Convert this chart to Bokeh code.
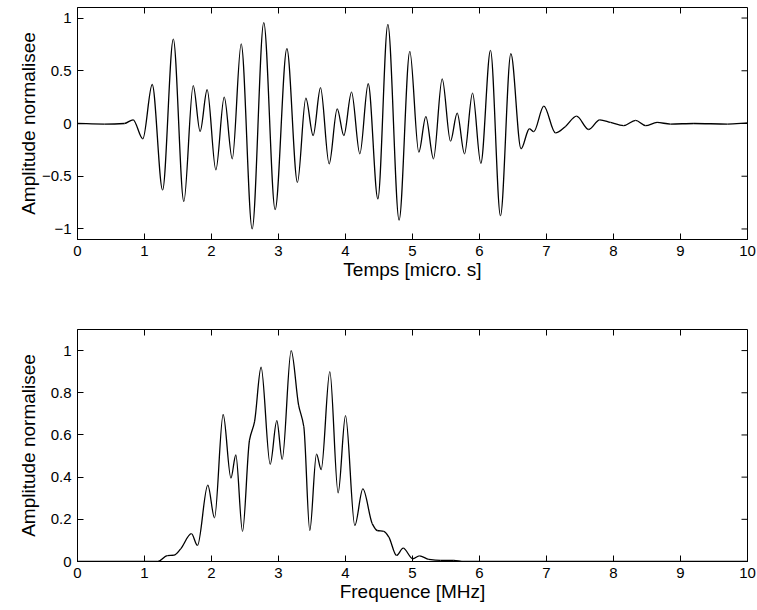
import math
from bokeh.plotting import figure
from bokeh.layouts import column
from bokeh.models import Range1d, FixedTicker
from bokeh.embed import file_html
from bokeh.resources import INLINE

# ---- data ----
time_us = [0.0, 0.4, 0.7, 0.83, 0.975, 1.115, 1.27, 1.43, 1.587, 1.727, 1.83, 1.935,
           2.065, 2.19, 2.31, 2.443, 2.607, 2.78, 2.95, 3.125, 3.283, 3.408, 3.517,
           3.627, 3.756, 3.876, 3.975, 4.09, 4.214, 4.339, 4.483, 4.632, 4.80, 4.96,
           5.094, 5.199, 5.313, 5.443, 5.567, 5.667, 5.776, 5.896, 6.02, 6.164, 6.313,
           6.468, 6.62, 6.745, 6.81, 6.96, 7.134, 7.28, 7.448, 7.63, 7.795, 7.955,
           8.15, 8.33, 8.48, 8.65, 8.85, 9.2, 9.7, 10.0]
amp_time = [0.0, -0.005, 0.0, 0.035, -0.145, 0.37, -0.63, 0.80, -0.74, 0.36, -0.075, 0.32,
            -0.44, 0.25, -0.335, 0.755, -1.0, 0.956, -0.817, 0.71, -0.557, 0.24, -0.114,
            0.339, -0.383, 0.139, -0.114, 0.297, -0.288, 0.377, -0.715, 0.94, -0.915, 0.684,
            -0.272, 0.066, -0.335, 0.424, -0.168, 0.098, -0.288, 0.288, -0.377, 0.693, -0.874,
            0.662, -0.24, -0.05, -0.077, 0.165, -0.089, -0.03, 0.07, -0.057, 0.035, 0.01,
            -0.02, 0.03, -0.02, 0.01, -0.005, 0.0, -0.005, 0.005]

freq_mhz = [0.0, 1.2, 1.34, 1.44, 1.54, 1.70, 1.79, 1.945, 2.045, 2.174, 2.29, 2.363,
            2.463, 2.567, 2.642, 2.74, 2.876, 2.975, 3.055, 3.189, 3.30, 3.378, 3.467,
            3.567, 3.637, 3.766, 3.89, 4.0, 4.139, 4.259, 4.40, 4.473, 4.572, 4.647,
            4.761, 4.861, 5.005, 5.104, 5.244, 5.418, 5.617, 5.766, 10.0]
amp_freq = [0.0, 0.0, 0.028, 0.03, 0.06, 0.132, 0.076, 0.362, 0.207, 0.697, 0.396, 0.505,
            0.143, 0.575, 0.662, 0.921, 0.461, 0.668, 0.484, 1.0, 0.742, 0.639, 0.147,
            0.509, 0.436, 0.90, 0.325, 0.691, 0.171, 0.344, 0.179, 0.147, 0.143, 0.116,
            0.029, 0.063, 0.013, 0.027, 0.01, 0.005, 0.005, 0.0, 0.0]

x_ticks = [0, 1, 2, 3, 4, 5, 6, 7, 8, 9, 10]
x_tick_labels = ["0", "1", "2", "3", "4", "5", "6", "7", "8", "9", "10"]
y_ticks_top = [-1, -0.5, 0, 0.5, 1]
y_tick_labels_top = ["\u22121", "\u22120.5", "0", "0.5", "1"]
y_ticks_bottom = [0, 0.2, 0.4, 0.6, 0.8, 1]
y_tick_labels_bottom = ["0", "0.2", "0.4", "0.6", "0.8", "1"]

x_label_top = "Temps [micro. s]"
x_label_bottom = "Frequence [MHz]"
y_label = "Amplitude normalisee"

FONT = "Liberation Sans"
TICK_FS = "15px"
LABEL_FS = "19px"
TICK_LEN = 6


def smooth_segments(xs, ys):
    """Cubic Bezier pieces through every read value (monotone, no overshoot)."""
    n = len(xs)
    h = [xs[i + 1] - xs[i] for i in range(n - 1)]
    d = [(ys[i + 1] - ys[i]) / h[i] for i in range(n - 1)]
    m = [0.0] * n
    m[0], m[-1] = d[0], d[-1]
    for i in range(1, n - 1):
        if d[i - 1] * d[i] <= 0:
            m[i] = 0.0
        else:
            w1 = 2 * h[i] + h[i - 1]
            w2 = h[i] + 2 * h[i - 1]
            m[i] = (w1 + w2) / (w1 / d[i - 1] + w2 / d[i])
    seg = dict(x0=[], y0=[], x1=[], y1=[], cx0=[], cy0=[], cx1=[], cy1=[])
    for i in range(n - 1):
        seg["x0"].append(xs[i]); seg["y0"].append(ys[i])
        seg["x1"].append(xs[i + 1]); seg["y1"].append(ys[i + 1])
        seg["cx0"].append(xs[i] + h[i] / 3); seg["cy0"].append(ys[i] + m[i] * h[i] / 3)
        seg["cx1"].append(xs[i + 1] - h[i] / 3); seg["cy1"].append(ys[i + 1] - m[i + 1] * h[i] / 3)
    return seg


def style_axis(ax, ticks, labels, label_standoff=6, axis_label_standoff=0):
    ax.ticker = FixedTicker(ticks=ticks)
    ax.major_tick_in = TICK_LEN
    ax.major_tick_out = 0
    ax.minor_tick_in = 0
    ax.minor_tick_out = 0
    ax.axis_line_color = "black"
    ax.axis_line_width = 1
    ax.major_tick_line_color = "black"
    ax.major_tick_line_width = 1
    ax.major_label_text_color = "black"
    ax.major_label_text_font = FONT
    ax.major_label_text_font_size = TICK_FS
    ax.major_label_standoff = label_standoff
    ax.major_label_overrides = {t: l for t, l in zip(ticks, labels)}
    ax.axis_label_text_font = FONT
    ax.axis_label_text_font_size = LABEL_FS
    ax.axis_label_text_font_style = "normal"
    ax.axis_label_text_color = "black"
    ax.axis_label_standoff = axis_label_standoff


def make_panel(xs, ys, y_range, yt, ytl, xlabel, height, top_border, bottom_border, ylab_standoff):
    p = figure(width=757, height=height,
               x_range=Range1d(0, 10), y_range=Range1d(*y_range),
               output_backend="svg", toolbar_location=None,
               min_border_left=77, min_border_right=10,
               min_border_top=top_border, min_border_bottom=bottom_border,
               background_fill_color="white", border_fill_color="white")
    p.grid.visible = False
    p.outline_line_color = "black"
    p.outline_line_width = 1
    p.outline_line_alpha = 1
    seg = smooth_segments(xs, ys)
    p.bezier(line_color="black", line_width=1.3, **seg)

    style_axis(p.xaxis[0], x_ticks, x_tick_labels, label_standoff=6, axis_label_standoff=0)
    p.xaxis[0].axis_label = xlabel
    style_axis(p.yaxis[0], yt, ytl, label_standoff=6, axis_label_standoff=ylab_standoff)
    p.yaxis[0].axis_label = y_label

    # mirrored inward ticks on the top and right edges of the box
    p.ray(x=x_ticks, y=[y_range[1]] * len(x_ticks), length=TICK_LEN, length_units="screen",
          angle=-math.pi / 2, line_color="black", line_width=1)
    p.ray(x=[10] * len(yt), y=yt, length=TICK_LEN, length_units="screen",
          angle=math.pi, line_color="black", line_width=1)
    return p


p1 = make_panel(time_us, amp_time, (-1.1, 1.1), y_ticks_top, y_tick_labels_top,
                x_label_top, 300, 7, 61, 0)
p2 = make_panel(freq_mhz, amp_freq, (0, 1.1), y_ticks_bottom, y_tick_labels_bottom,
                x_label_bottom, 310, 29, 49, 9)

layout = column(p1, p2, spacing=0)
open("out.html", "w").write(file_html(layout, INLINE))
